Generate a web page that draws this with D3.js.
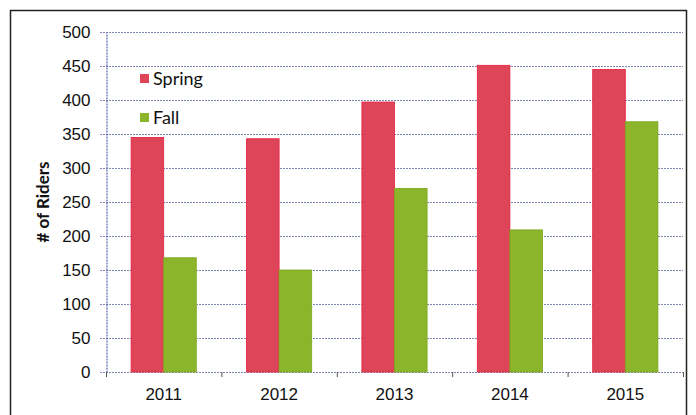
<!DOCTYPE html>
<meta charset="utf-8">
<style>
body {
	margin: 0;
	background: #fff;
}
svg {
	display: block;
	font-family: Lato, "Open Sans", sans-serif;
}
.grid line {
	stroke: #7d88b4;
	stroke-width: 1;
	stroke-dasharray: 2,1;
}
.y.axis text, .x.axis text {
	font-size: 17px;
	fill: #111;
}
</style>
<body>
<svg></svg>
<script src="https://d3js.org/d3.v7.min.js"></script>
<script>

var years = ["2011", "2012", "2013", "2014", "2015"];
var spring = [345, 343, 397, 451, 445];
var fall = [168, 150, 270, 209, 368];
var seriesNames = ["Spring", "Fall"];
var yTicks = [0, 50, 100, 150, 200, 250, 300, 350, 400, 450, 500];

var width = 696, height = 415;
var margin = {top: 32, right: 13, bottom: 43, left: 106};
var colors = {Spring: "#df4559", Fall: "#8bb52a"};
var strokes = {Spring: "#e31f3c", Fall: "#7ea520"};

var svg = d3.select("svg")
	.attr("width", width)
	.attr("height", height);

// outer frame
svg.append("rect")
	.attr("x", 10.5)
	.attr("y", 10.5)
	.attr("width", 676)
	.attr("height", 420)
	.attr("fill", "none")
	.attr("stroke", "#222")
	.attr("stroke-width", 1.5);

var x0 = d3.scaleBand()
	.domain(years)
	.range([margin.left, width - margin.right])
	.paddingInner(0.435)
	.paddingOuter(0.2175);

var x1 = d3.scaleBand()
	.domain(seriesNames)
	.range([0, x0.bandwidth()]);

var y = d3.scaleLinear()
	.domain([0, 500])
	.range([height - margin.bottom, margin.top]);

// gridlines
svg.append("g")
	.attr("class", "grid")
	.selectAll("line")
	.data(yTicks)
	.join("line")
	.attr("x1", margin.left - 6)
	.attr("x2", width - margin.right)
	.attr("y1", function(d) { return Math.round(y(d)) + 0.5; })
	.attr("y2", function(d) { return Math.round(y(d)) + 0.5; });

// bars
var groups = svg.append("g")
	.selectAll("g")
	.data(years)
	.join("g")
	.attr("transform", function(d) { return "translate(" + x0(d) + ",0)"; });

groups.selectAll("rect")
	.data(function(d, i) {
		return [{key: "Spring", value: spring[i]}, {key: "Fall", value: fall[i]}];
	})
	.join("rect")
	.attr("x", function(d) { return x1(d.key); })
	.attr("width", x1.bandwidth())
	.attr("y", function(d) { return y(d.value); })
	.attr("height", function(d) { return y(0) - y(d.value); })
	.attr("fill", function(d) { return colors[d.key]; })
	.attr("stroke", function(d) { return strokes[d.key]; })
	.attr("stroke-width", 0.8);

// y axis
var yAxis = svg.append("g")
	.attr("class", "y axis")
	.attr("transform", "translate(" + (margin.left + 0.5) + ",0)")
	.call(d3.axisLeft(y).tickValues(yTicks).tickSize(0).tickPadding(16));
yAxis.select(".domain")
	.attr("stroke", "#3344a0")
	.attr("stroke-dasharray", "2,1");

// x axis
var xAxis = svg.append("g")
	.attr("class", "x axis")
	.attr("transform", "translate(0," + (Math.round(y(0)) + 0.5) + ")")
	.call(d3.axisBottom(x0).tickSize(0).tickPadding(15));
xAxis.select(".domain").remove();

// category separators
var step = x0.step();
svg.append("g")
	.selectAll("line")
	.data(d3.range(years.length + 1))
	.join("line")
	.attr("x1", function(i) { return margin.left + i * step + 0.5; })
	.attr("x2", function(i) { return margin.left + i * step + 0.5; })
	.attr("y1", y(0))
	.attr("y2", y(0) + 5)
	.attr("stroke", "#555");

// y title
svg.append("text")
	.attr("transform", "translate(49," + ((margin.top + height - margin.bottom) / 2) + ") rotate(-90)")
	.attr("text-anchor", "middle")
	.attr("font-size", 17)
	.attr("font-weight", "bold")
	.attr("fill", "#111")
	.text("# of Riders");

// legend
var legend = svg.append("g")
	.selectAll("g")
	.data(seriesNames)
	.join("g")
	.attr("transform", function(d, i) { return "translate(140," + (74 + i * 39) + ")"; });
legend.append("rect")
	.attr("width", 9)
	.attr("height", 9)
	.attr("fill", function(d) { return colors[d]; });
legend.append("text")
	.attr("x", 13)
	.attr("y", 11)
	.attr("font-size", 18)
	.attr("fill", "#111")
	.text(function(d) { return d; });

</script>
</body>
